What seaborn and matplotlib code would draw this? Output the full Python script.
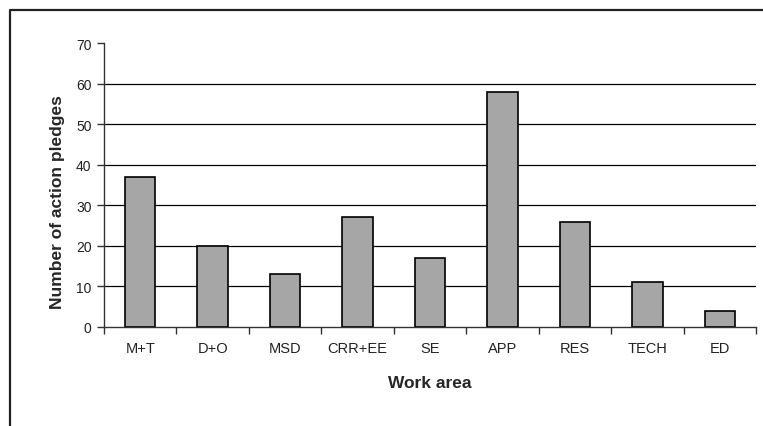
import matplotlib
matplotlib.use("Agg")
import matplotlib.pyplot as plt
import seaborn as sns
import pandas as pd
from matplotlib.lines import Line2D

categories = ["M+T", "D+O", "MSD", "CRR+EE", "SE", "APP", "RES", "TECH", "ED"]
pledges = [37, 20, 13, 27, 17, 58, 26, 11, 4]
y_ticks = [0, 10, 20, 30, 40, 50, 60, 70]

sns.set_theme(style="white")
plt.rcParams['font.family'] = ['Liberation Sans', 'DejaVu Sans']

df = pd.DataFrame({"area": categories, "n": pledges})

W, H = 763, 427
fig = plt.figure(figsize=(W / 100, H / 100), dpi=100)
ax = fig.add_axes([104 / W, 1 - 328 / H, (756 - 104) / W, (328 - 44) / H])

sns.barplot(data=df, x="area", y="n", ax=ax, color="#a6a6a6",
            edgecolor="black", linewidth=1.2, width=0.42, saturation=1)

ax.set_ylim(0, 70)
ax.set_xlim(-0.5, len(categories) - 0.5)
ax.set_yticks(y_ticks)
for v in y_ticks[1:-1]:
    ax.axhline(v, color="black", linewidth=0.9, zorder=0)

for s in ["top", "right"]:
    ax.spines[s].set_visible(False)
for s in ["left", "bottom"]:
    ax.spines[s].set_color("#333333")
    ax.spines[s].set_linewidth(1.0)

ax.set_xticks([i - 0.5 for i in range(len(categories) + 1)], minor=True)
ax.tick_params(axis="x", which="minor", length=5, width=1, color="#333333", direction="out", bottom=True)
ax.tick_params(axis="x", which="major", length=0, pad=10, labelsize=10.5, labelcolor="#222222")
ax.tick_params(axis="y", which="major", length=5, width=1, color="#333333", direction="out", left=True,
               labelsize=10, labelcolor="#222222", pad=4)

ax.set_xlabel("Work area", fontsize=12.5, fontweight="bold")
ax.set_ylabel("Number of action pledges", fontsize=12.5, fontweight="bold")
ax.xaxis.set_label_coords(0.499, -0.197)
ax.yaxis.set_label_coords(-0.072, 0.442)
ax.xaxis.label.set_va("center")
ax.yaxis.label.set_va("center")

x0 = 9.5 / W
yt = 1 - 10.5 / H
fig.add_artist(Line2D([x0, x0, 1.0], [0.0, yt, yt], transform=fig.transFigure,
                      color="#222222", linewidth=1.6))

fig.savefig("out.png", dpi=100)
